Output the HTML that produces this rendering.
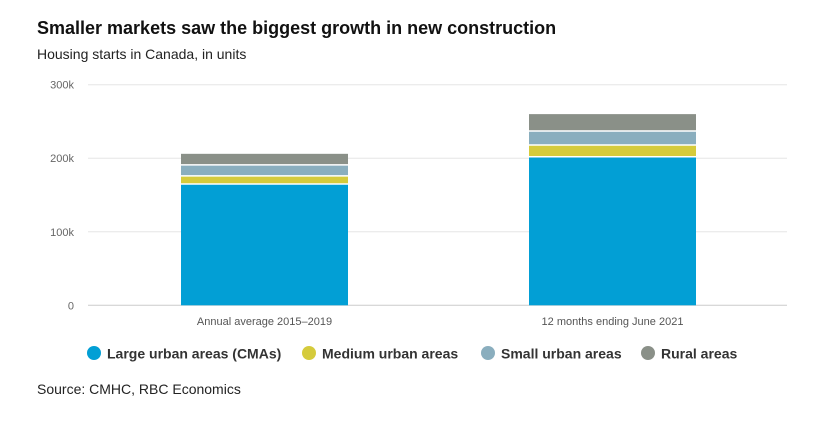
<!DOCTYPE html>
<html><head><meta charset="utf-8"><style>
body{margin:0;background:#fff;font-family:"Liberation Sans",sans-serif;width:831px;height:428px;overflow:hidden;position:relative}
.t{position:absolute;left:37px;top:18px;font-size:18px;font-weight:bold;color:#111}
.s{position:absolute;left:37px;top:46px;font-size:14px;color:#222}
.src{position:absolute;left:37px;top:381px;font-size:14px;color:#222}
</style></head><body>
<div class="t">Smaller markets saw the biggest growth in new construction</div>
<div class="s">Housing starts in Canada, in units</div>
<svg id="c" width="831" height="428" style="position:absolute;left:0;top:0"></svg>
<div class="src">Source: CMHC, RBC Economics</div>
<script>
const categories=["Annual average 2015–2019","12 months ending June 2021"];
const seriesNames=["Large urban areas (CMAs)","Medium urban areas","Small urban areas","Rural areas"];
const large=[165,202];
const medium=[11,16];
const small=[15,19];
const rural=[15,23];
const ticks=[0,100,200,300];
const tickLabels=["0","100k","200k","300k"];
const colors=["#029fd5","#d5cb3c","#8aaebe","#8a9088"];
const series=[large,medium,small,rural];
const NS="http://www.w3.org/2000/svg";
const svg=document.getElementById('c');
const y=v=>305.3-v*0.7353;
const cx=[264.5,612.5];const bw=167;
function mk(t,a){const e=document.createElementNS(NS,t);for(const k in a)e.setAttribute(k,a[k]);svg.appendChild(e);return e;}
ticks.forEach((v,i)=>{
 const l=mk('line',{x1:88,x2:787,y1:y(v),y2:y(v),stroke:i==0?'#ccc':'#e6e6e6','stroke-width':1});
 
 
 const t=mk('text',{x:74,y:y(v)+4,'text-anchor':'end','font-size':11,fill:'#666','font-family':'Liberation Sans, sans-serif'});
 t.textContent=tickLabels[i];
 
 
});
categories.forEach((c,i)=>{
 let base=0;
 series.forEach((s,j)=>{
  const top=base+s[i];
  const r=mk('rect',{x:cx[i]-bw/2,y:y(top),width:bw,height:Math.max(0,y(base)-y(top)-(j>0?0:0)),fill:colors[j]});
  
  
  if(j>0){const g=mk('line',{x1:cx[i]-bw/2,x2:cx[i]+bw/2,y1:y(base),y2:y(base),stroke:'#fff','stroke-width':1.5});
   
   }
  base=top;
 });
 const t=mk('text',{x:cx[i],y:325,'text-anchor':'middle','font-size':11,fill:'#555','font-family':'Liberation Sans, sans-serif'});
 t.textContent=c;
 
 
});
const lx=[94,309,488,648];
seriesNames.forEach((n,j)=>{
 const c=mk('circle',{cx:lx[j],cy:353,r:7,fill:colors[j]});
 
 
 const t=mk('text',{x:lx[j]+13,y:358.5,'font-size':14,'font-weight':'bold',fill:'#333','font-family':'Liberation Sans, sans-serif'});
 t.textContent=n;
 
 
});
</script>
</body></html>
